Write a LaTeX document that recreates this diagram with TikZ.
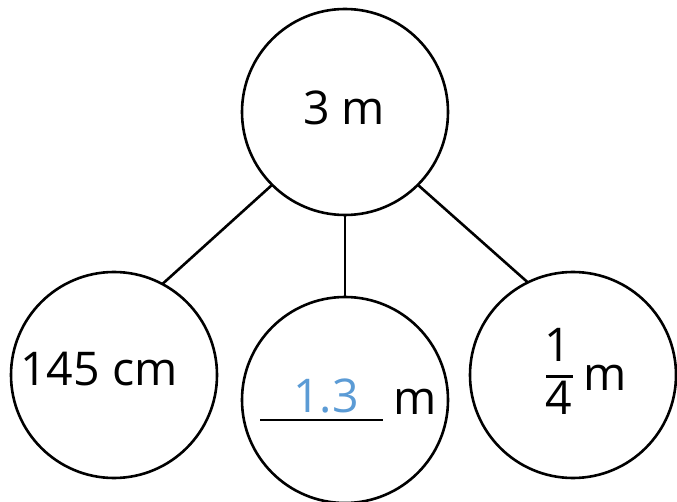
\documentclass[tikz,border=0pt]{standalone}
\usepackage{fontspec}
\setmainfont{Open Sans}
\definecolor{ansblue}{RGB}{91,155,213}
\begin{document}
\begin{tikzpicture}[x=1pt,y=-1pt,
  bubble/.style={circle,draw=black,line width=2.6pt,minimum size=206pt,inner sep=0pt,outer sep=0pt},
  conn/.style={draw=black,line width=2.6pt},
  txt/.style={font=\fontsize{46.5}{50}\selectfont,inner sep=0pt,anchor=base}]
\useasboundingbox (0,0) rectangle (677,502);
\node[bubble] (top) at (345,112) {};
\node[bubble] (left) at (114,375) {};
\node[bubble] (mid) at (345,400) {};
\node[bubble] (right) at (573,375) {};
\draw[conn] (top.225) -- (left.62);
\draw[conn] (top.south) -- (mid.north);
\draw[conn] (top.315) -- (right.116);
\node[txt] (t3m) at (344,125) {3 m};
\node[txt] (t145) at (99,385) {145 cm};
\node[txt,text=ansblue] (tans) at (326,412) {1.3};
\coordinate (ul1) at (260,420);
\coordinate (ul2) at (383,420);
\draw[line width=2.6pt] (ul1) -- (ul2);
\node[txt] (tm2) at (415,414) {m};
\node[txt] (tnum) at (558,362) {1};
\node[txt] (tden) at (559,414) {4};
\coordinate (fb1) at (546,376);
\coordinate (fb2) at (573,376);
\draw[line width=3pt] (fb1) -- (fb2);
\node[txt] (tm3) at (605,390) {m};
\end{tikzpicture}
\end{document}
